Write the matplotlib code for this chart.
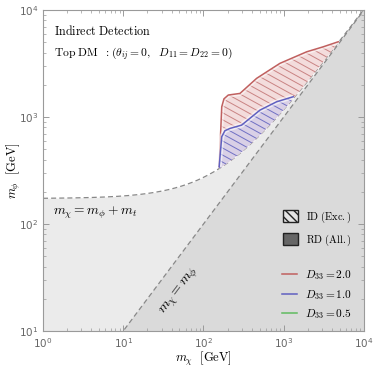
import numpy as np
import matplotlib.pyplot as plt
from matplotlib.patches import Patch, Polygon
from matplotlib.lines import Line2D
from matplotlib.collections import LineCollection

# top quark mass, GeV (kinematic boundary m_phi = m_chi + m_t)
m_top = 173.0

# upper edge of ID exclusion, D33 = 2.0
red_mx = [157, 169, 180, 204, 285, 460, 897, 1932, 3112, 4786]
red_mphi = [344, 1247, 1480, 1607, 1663, 2301, 3177, 4074, 4539, 5058]
# upper edge of ID exclusion, D33 = 1.0
blue_mx = [157, 169, 185, 214, 299, 506, 817, 1315]
blue_mphi = [344, 655, 745, 783, 841, 1161, 1390, 1549]

labels_d33 = [r"$D_{33} = 2.0$", r"$D_{33} = 1.0$", r"$D_{33} = 0.5$"]
line_cols = ["#c0605f", "#6060c0", "#60bb60"]

fig = plt.figure(figsize=(3.74, 3.74), dpi=100)
ax = fig.add_axes([0.115, 0.115, 0.858, 0.858])
ax.set_xscale("log")
ax.set_yscale("log")
ax.set_xlim(1, 1e4)
ax.set_ylim(10, 1e4)

# kinematic regions
xx = np.geomspace(1, 1e4, 300)
ax.fill_between(xx, 10, xx + m_top, color="#ebebeb", lw=0, zorder=1)
ax.fill_between(xx, 10, xx, color="#dadada", lw=0, zorder=1.1)
ax.plot(xx, xx + m_top, color="#888888", lw=0.9, ls=(0, (4, 2.5)), zorder=3)
ax.plot(xx, xx, color="#888888", lw=0.9, ls=(0, (4, 2.5)), zorder=3)


def id_region(mx, mphi, fill, hatch_col, line_col, z):
    xb = np.geomspace(mx[-1], mx[0], 40)
    pts = list(zip(mx, mphi)) + list(zip(xb, xb + m_top))
    poly = Polygon(pts, closed=True, facecolor=fill, edgecolor="none", zorder=z)
    ax.add_patch(poly)
    segs = [[(0, c), (1, c - 0.55)] for c in np.arange(-0.2, 1.8, 0.022)]
    lc = LineCollection(segs, colors=hatch_col, linewidths=0.7,
                        transform=ax.transAxes, zorder=z + 0.1)
    ax.add_collection(lc)
    lc.set_clip_path(poly)
    ax.plot(mx, mphi, color="white", lw=3.5, alpha=0.6, zorder=z + 0.2,
            solid_capstyle="butt")
    ax.plot(mx, mphi, color=line_col, lw=1.1, zorder=z + 0.3)


id_region(red_mx, red_mphi, "#f3dcdc", "#c98383", line_cols[0], 4)
id_region(blue_mx, blue_mphi, "#d9d0e6", "#7070c4", line_cols[1], 5)

# axes styling
for s in ax.spines.values():
    s.set_color("#9a9a9a")
    s.set_linewidth(0.8)
    s.set_zorder(10)
ax.tick_params(which="both", direction="in", top=True, right=True,
               colors="#9a9a9a", labelcolor="#666666", labelsize=7.5)
ax.tick_params(which="major", length=4, width=0.7)
ax.tick_params(which="minor", length=2, width=0.5)

ax.set_xlabel(r"$m_\chi\ \ [\mathrm{GeV}]$", fontsize=9, math_fontfamily="cm")
ax.set_ylabel(r"$m_\phi\ \ [\mathrm{GeV}]$", fontsize=9, math_fontfamily="cm")
ax.xaxis.set_label_coords(0.5, -0.06)
ax.yaxis.set_label_coords(-0.062, 0.5)

ax.text(0.035, 0.935, r"$\mathrm{Indirect\ Detection}$", transform=ax.transAxes,
        fontsize=8.7, math_fontfamily="cm", va="center", zorder=12)
ax.text(0.035, 0.865,
        r"$\mathrm{Top\ DM}\ \ :(\theta_{ij} = 0,\ \ D_{11} = D_{22} = 0)$",
        transform=ax.transAxes, fontsize=8.3, math_fontfamily="cm",
        va="center", zorder=12)
ax.text(0.031, 0.368, r"$m_\chi = m_\phi + m_t$", transform=ax.transAxes,
        fontsize=9.7, math_fontfamily="cm", va="center", zorder=12)
ax.text(0.428, 0.122, r"$m_\chi = m_\phi$", transform=ax.transAxes,
        fontsize=10.2, math_fontfamily="cm", va="center", ha="center",
        rotation=53, zorder=12)

# legends
h1 = [Patch(facecolor="#e4e4e4", edgecolor="#222222", hatch="\\\\\\\\", lw=1.0),
      Patch(facecolor="#666666", edgecolor="#222222", lw=1.0)]
leg1 = ax.legend(h1, [r"$\mathrm{ID\ (Exc.)}$", r"$\mathrm{RD\ (All.)}$"],
                 loc="upper left", bbox_to_anchor=(0.735, 0.392), frameon=False,
                 fontsize=7.5, handlelength=1.45, handleheight=1.45,
                 labelspacing=0.75, handletextpad=0.8, borderaxespad=0)
for t in leg1.get_texts():
    t.set_math_fontfamily("cm")
ax.add_artist(leg1)

h2 = [Line2D([], [], color=c, lw=1.1) for c in line_cols]
leg2 = ax.legend(h2, labels_d33, loc="upper left", bbox_to_anchor=(0.732, 0.21),
                 frameon=False, fontsize=8.2, handlelength=1.25,
                 labelspacing=0.5, handletextpad=0.7, borderaxespad=0)
for t in leg2.get_texts():
    t.set_math_fontfamily("cm")
leg1.set_zorder(12)
leg2.set_zorder(12)

fig.savefig("out.png", dpi=100)
